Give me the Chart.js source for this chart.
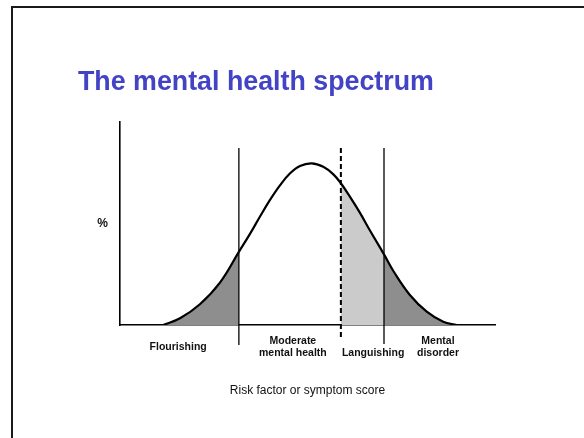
<!DOCTYPE html>
<html>
<head>
<meta charset="utf-8">
<script src="https://cdn.jsdelivr.net/npm/chart.js@4"></script>
<style>
  html, body { margin: 0; padding: 0; background: #fff; }
  #wrap { position: relative; width: 584px; height: 438px; overflow: hidden; }
  #frame { position: absolute; left: 11px; top: 6px; width: 700px; height: 600px;
           border-left: 2px solid #1a1a1a; border-top: 2px solid #1a1a1a; }
  #chart { position: absolute; left: 0; top: 0; }
</style>
</head>
<body>
<div id="wrap">
  <div id="frame"></div>
  <canvas id="chart" width="584" height="438"></canvas>
</div>
<script>
// ----------------------
// Data (score 0-100, share 0-100)
// ----------------------
const curveX = [11.5, 16.0, 21.3, 26.7, 31.7, 34.7, 37.3, 40.0, 42.7, 45.3, 48.0, 51.1,
                54.2, 56.9, 58.9, 61.3, 64.0, 66.7, 70.4, 72.9, 77.3, 81.8, 86.2, 89.8];
const curveY = [0, 3.3, 10.2, 21.0, 36.0, 45.0, 53.3, 61.6, 68.9, 74.6, 78.3, 79.6,
                77.9, 74.2, 69.8, 63.2, 55.2, 46.4, 34.8, 26.6, 14.8, 6.6, 1.6, 0];

// zone boundaries: flourishing | moderate | languishing | disorder
const cutoffs = [31.7, 58.9, 70.4];
const cutoffTop = [87.2, 88.7, 87.2];
const cutoffBottom = [-9.9, -5.9, -9.4];

const zoneCenters = [15.5, 46.1, 67.5, 84.8];
const zoneLabels = [["Flourishing"], ["Moderate", "mental health"], ["", "Languishing"], ["Mental", "disorder"]];

const yTickValues = [50];
const yTickLabels = ["%"];

const titleText = "The mental health spectrum";
const xTitleText = "Risk factor or symptom score";

// ----------------------
// Colours
// ----------------------
const darkShade = "#8e8e8e";
const lightShade = "#cbcbcb";

function zoneFill(ctx) {
  const x0 = curveX[ctx.p0DataIndex];
  const x1 = curveX[ctx.p1DataIndex];
  if (x1 <= cutoffs[0] || x0 >= cutoffs[2]) return darkShade;
  if (x0 >= cutoffs[1] && x1 <= cutoffs[2]) return lightShade;
  return "rgba(0,0,0,0)";
}

// ----------------------
// Zone labels under the axis
// ----------------------
const zoneLabelPlugin = {
  id: "zoneLabels",
  afterDraw(chart) {
    const { ctx, scales: { x, y } } = chart;
    const lineH = 12;
    const midY = y.getPixelForValue(0) + 22;
    ctx.save();
    ctx.fillStyle = "#111";
    ctx.font = "bold 10.5px 'Liberation Sans', Arial, sans-serif";
    ctx.textAlign = "center";
    ctx.textBaseline = "middle";
    zoneLabels.forEach((lines, i) => {
      const px = x.getPixelForValue(zoneCenters[i]);
      const startY = midY - (lines.length - 1) * lineH / 2;
      lines.forEach((t, j) => ctx.fillText(t, px, startY + j * lineH));
    });
    ctx.restore();
  }
};

// ----------------------
// Datasets
// ----------------------
const curveData = curveX.map((x, i) => ({ x, y: curveY[i] }));

const datasets = [{
  data: curveData,
  borderColor: "#000",
  borderWidth: 2.2,
  pointRadius: 0,
  tension: 0.4,
  fill: "origin",
  backgroundColor: "rgba(0,0,0,0)",
  segment: { backgroundColor: zoneFill }
}];

cutoffs.forEach((c, i) => {
  datasets.push({
    data: [{ x: c, y: cutoffBottom[i] }, { x: c, y: cutoffTop[i] }],
    borderColor: "#000",
    borderWidth: i === 1 ? 2 : 1.3,
    borderDash: i === 1 ? [5, 3] : [],
    pointRadius: 0,
    fill: false,
    clip: false
  });
});

new Chart(document.getElementById("chart"), {
  type: "line",
  data: { datasets },
  options: {
    responsive: false,
    animation: false,
    events: [],
    layout: { padding: { left: 78, right: 89, top: 0, bottom: 40 } },
    plugins: {
      legend: { display: false },
      tooltip: { enabled: false },
      filler: { drawTime: "beforeDatasetsDraw" },
      title: {
        display: true,
        text: titleText,
        align: "start",
        color: "#4343c6",
        font: { family: "'Liberation Sans', Arial, sans-serif", size: 26.8, weight: "bold", lineHeight: 1.2 },
        padding: { top: 67, bottom: 22.8 }
      }
    },
    scales: {
      x: {
        type: "linear",
        min: 0,
        max: 100,
        grid: { display: false, drawTicks: false },
        border: { display: true, color: "#000", width: 1.6 },
        ticks: { display: false },
        title: {
          display: true,
          text: xTitleText,
          color: "#111",
          font: { family: "'Liberation Sans', Arial, sans-serif", size: 12, lineHeight: 1.2 },
          padding: { top: 58.6, bottom: 0 }
        }
      },
      y: {
        min: 0,
        max: 100,
        grid: { display: false, drawTicks: false },
        border: { display: true, color: "#000", width: 1.6 },
        afterBuildTicks: (scale) => { scale.ticks = yTickValues.map(v => ({ value: v })); },
        afterFit: (scale) => { scale.width = 42; },
        ticks: {
          padding: 12,
          color: "#111",
          font: { family: "'Liberation Sans', Arial, sans-serif", size: 12, weight: "bold" },
          callback: (v) => yTickLabels[yTickValues.indexOf(v)]
        }
      }
    }
  },
  plugins: [zoneLabelPlugin]
});
</script>
</body>
</html>
